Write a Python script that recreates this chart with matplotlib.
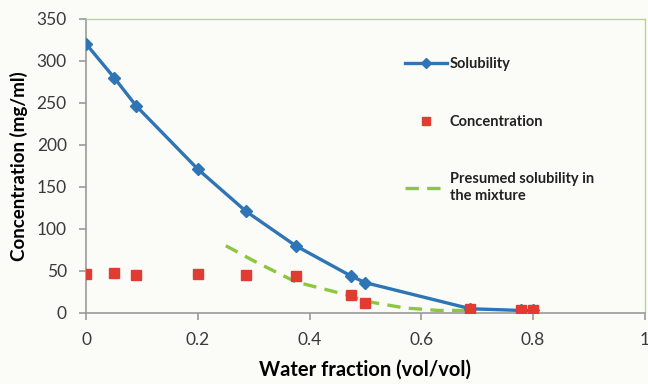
import matplotlib
matplotlib.use("Agg")
import matplotlib.pyplot as plt

# water fraction (vol/vol)
water = [0.0, 0.05, 0.09, 0.2, 0.286, 0.375, 0.474, 0.5, 0.688, 0.778, 0.8]
solubility = [320, 280, 246, 171, 121, 80, 44, 36, 5, 3, 3]
concentration = [46, 47, 45, 46, 45, 44, 21, 12, 5, 3, 3]

presumed_x = [0.25, 0.3, 0.375, 0.47, 0.5, 0.57, 0.63, 0.69]
presumed_y = [80, 62, 37, 21, 14, 6, 3, 3]

plt.rcParams['font.family'] = ['Lato', 'DejaVu Sans']

fig = plt.figure(figsize=(6.48, 3.84), dpi=100)
fig.patch.set_facecolor('#fbfbf8')
ax = fig.add_axes([0.133, 0.185, 0.862, 0.766])
ax.set_facecolor('#fbfbf8')

ax.plot(water, solubility, color='#2e75b6', lw=2.4, marker='D', ms=6.5,
        label='Solubility', zorder=3)
ax.plot(water, concentration, ls='none', marker='s', ms=6.5, color='#e03c31',
        label='Concentration', zorder=4)
ax.plot(presumed_x, presumed_y, color='#8dc63f', lw=2.4, ls=(0, (4, 2.5)),
        label='Presumed solubility in\nthe mixture', zorder=2)

ax.set_xlim(0, 1)
ax.set_ylim(0, 350)
ax.set_xticks([0, 0.2, 0.4, 0.6, 0.8, 1])
ax.set_xticklabels(['0', '0.2', '0.4', '0.6', '0.8', '1'])
ax.set_yticks(range(0, 351, 50))

for s in ['left', 'bottom']:
    ax.spines[s].set_color('#9a9a9a')
    ax.spines[s].set_linewidth(1.2)
for s in ['top', 'right']:
    ax.spines[s].set_color('#b5d98a')
    ax.spines[s].set_linewidth(1.0)

ax.tick_params(colors='#9a9a9a', labelcolor='#3a3a3a', labelsize=12.5,
               length=5, width=1.2)
ax.tick_params(axis='x', pad=9)
ax.tick_params(axis='y', pad=9)

ax.set_xlabel('Water fraction (vol/vol)', fontsize=14.5, fontweight='bold',
              labelpad=8)
ax.set_ylabel('Concentration (mg/ml)', fontsize=13.5, fontweight='bold',
              labelpad=6)

leg = ax.legend(loc='upper left', bbox_to_anchor=(0.558, 0.895), frameon=False,
                borderpad=0, labelspacing=3.0, handlelength=2.9,
                handletextpad=0.15, markerscale=0.8,
                prop={'weight': 'bold', 'size': 10.5})
for t in leg.get_texts():
    t.set_color('#222222')

fig.savefig('out.png', dpi=100, facecolor=fig.get_facecolor())
